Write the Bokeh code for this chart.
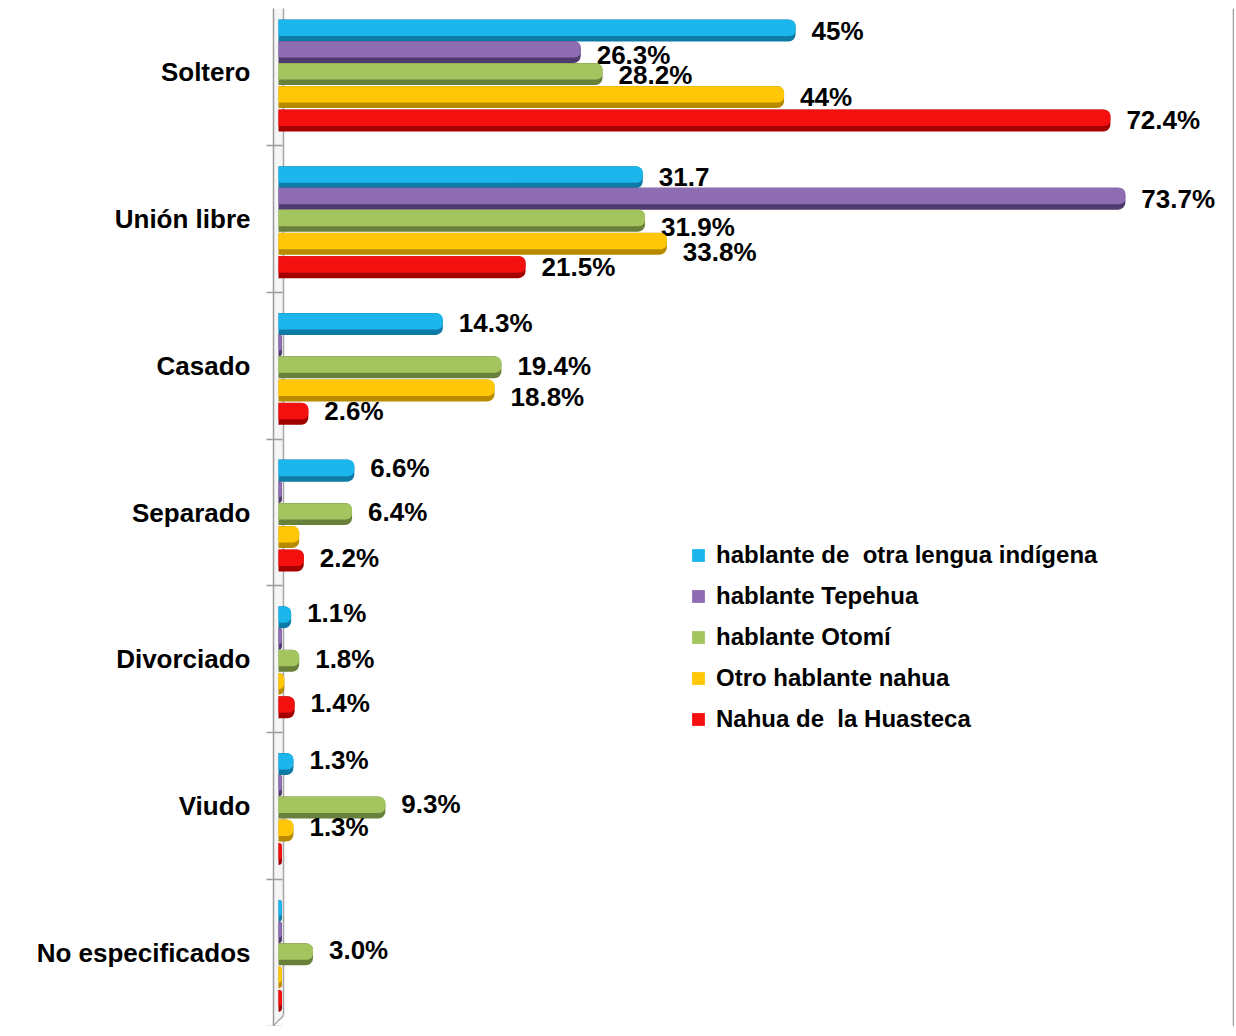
from bokeh.plotting import figure
from bokeh.models import ColumnDataSource, Range1d, FixedTicker, Span, Legend, LegendItem
from bokeh.core.properties import value
from bokeh.embed import file_html
from bokeh.resources import INLINE

# ---------------- data ----------------
categories = ["Soltero", "Unión libre", "Casado", "Separado", "Divorciado", "Viudo", "No especificados"]
series_names = ["hablante de  otra lengua indígena", "hablante Tepehua", "hablante Otomí",
                "Otro hablante nahua", "Nahua de  la Huasteca"]

otra_lengua = [45.0, 31.7, 14.3, 6.6, 1.1, 1.3, 0.3]
tepehua = [26.3, 73.7, 0.3, 0.3, 0.3, 0.3, 0.3]
otomi = [28.2, 31.9, 19.4, 6.4, 1.8, 9.3, 3.0]
otro_nahua = [44.0, 33.8, 18.8, 1.8, 0.5, 1.3, 0.3]
nahua_huasteca = [72.4, 21.5, 2.6, 2.2, 1.4, 0.3, 0.3]

otra_lengua_lbl = ["45%", "31.7", "14.3%", "6.6%", "1.1%", "1.3%", ""]
tepehua_lbl = ["26.3%", "73.7%", "", "", "", "", ""]
otomi_lbl = ["28.2%", "31.9%", "19.4%", "6.4%", "1.8%", "9.3%", "3.0%"]
otro_nahua_lbl = ["44%", "33.8%", "18.8%", "", "", "1.3%", ""]
nahua_huasteca_lbl = ["72.4%", "21.5%", "2.6%", "2.2%", "1.4%", "", ""]

# ---------------- styling / layout ----------------
series_values = [otra_lengua, tepehua, otomi, otro_nahua, nahua_huasteca]
series_labels = [otra_lengua_lbl, tepehua_lbl, otomi_lbl, otro_nahua_lbl, nahua_huasteca_lbl]
main_colors = ["#1CB5EC", "#8E6DB3", "#A3C45E", "#FFC708", "#F51010"]
dark_colors = ["#0E7BA6", "#4F3A6E", "#68803A", "#B88A00", "#A30000"]
bar_offsets = [-0.286, -0.140, 0.010, 0.167, 0.327]   # within-group offsets (category units)
bar_height = 0.15
label_nudge_px = [[0, 0, -1, -3, -4, -4, 0],
                  [3.5, 0, 0, 0, 0, 0, 0],
                  [1.5, 6, -1, -2, -2, -3, -4],
                  [0, 8, 7, 0, 0, -3.5, 0],
                  [0, 0, -3, -3, -4, 0, 0]]

FONT = "Liberation Sans"

p = figure(width=1234, height=1026,
           x_range=Range1d(-0.435, 83.2), y_range=Range1d(6.503, -0.436),
           output_backend="svg", toolbar_location=None,
           min_border_left=273, min_border_right=0, min_border_top=8, min_border_bottom=0)
p.outline_line_color = None
p.xgrid.visible = False
p.ygrid.visible = False
p.xaxis.visible = False
p.background_fill_color = "white"
p.border_fill_color = "white"

# wall of the 3D axis
p.quad(left=[-0.435], right=[0.435], top=[-0.44], bottom=[6.46], fill_color="#eeeeee",
       fill_alpha=0.6, line_color=None)
p.segment(x0=[0.435], y0=[-0.44], x1=[0.435], y1=[6.428], line_color="#a6a6a6", line_width=1.5)
p.segment(x0=[0.435], y0=[6.428], x1=[-0.435], y1=[6.496], line_color="#a6a6a6", line_width=1.5)

main_renderers = []
for s in range(5):
    ys = [i + bar_offsets[s] for i in range(len(categories))]
    src = ColumnDataSource(dict(
        y=ys,
        y_top=[yy - 0.018 for yy in ys],
        right=series_values[s],
        label=series_labels[s],
        nudge=label_nudge_px[s],
    ))
    p.hbar(y="y", height=bar_height, left=0, right="right", source=src,
           fill_color=dark_colors[s], line_color=None, border_radius=(0, 7, 7, 0))
    r = p.hbar(y="y_top", height=bar_height * 0.74, left=0, right="right", source=src,
               fill_color=main_colors[s], line_color=None, border_radius=(0, 6, 6, 0))
    main_renderers.append(r)
    p.text(x="right", y="y", text="label", source=src, x_offset=16, y_offset="nudge",
           text_font=value(FONT), text_font_style="bold", text_font_size="26px",
           text_baseline="middle", text_align="left", text_color="black")

# y axis with category labels and boundary ticks
p.yaxis.ticker = FixedTicker(ticks=list(range(len(categories))),
                             minor_ticks=[i + 0.5 for i in range(len(categories))])
p.yaxis.major_label_overrides = {i: c for i, c in enumerate(categories)}
p.yaxis.major_tick_out = 0
p.yaxis.major_tick_in = 0
p.yaxis.minor_tick_out = 7
p.yaxis.minor_tick_in = 9
p.yaxis.minor_tick_line_color = "#9a9a9a"
p.yaxis.minor_tick_line_width = 1.5
p.yaxis.axis_line_color = "#9a9a9a"
p.yaxis.axis_line_width = 1.5
p.yaxis.major_label_standoff = 16
p.yaxis.major_label_text_font = FONT
p.yaxis.major_label_text_font_style = "bold"
p.yaxis.major_label_text_font_size = "26px"
p.yaxis.major_label_text_color = "black"

# right border of the chart area
p.add_layout(Span(location=83.11, dimension="height", line_color="#a0a0a0", line_width=1.5))

legend = Legend(items=[LegendItem(label=series_names[s], renderers=[main_renderers[s]]) for s in range(5)],
                location=(417, 293))
legend.glyph_width = 16
legend.glyph_height = 16
legend.label_height = 26
legend.spacing = 13
legend.padding = 0
legend.margin = 0
legend.border_line_color = None
legend.background_fill_alpha = 0
legend.label_standoff = 10
legend.label_text_font = FONT
legend.label_text_font_style = "bold"
legend.label_text_font_size = "24px"
legend.label_text_color = "black"
p.add_layout(legend)

open("out.html", "w").write(file_html(p, INLINE))
